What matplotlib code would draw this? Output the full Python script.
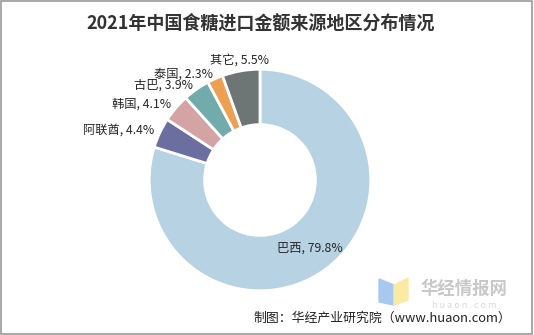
import numpy as np
import matplotlib.pyplot as plt
from matplotlib.patches import Rectangle, Polygon

plt.rcParams['font.family'] = ['Noto Sans CJK SC', 'DejaVu Sans']

# 数据
regions = ['巴西', '阿联酋', '韩国', '古巴', '泰国', '其它']
shares = [79.8, 4.4, 4.1, 3.9, 2.3, 5.5]
colors = ['#b7d2e3', '#6a6f9f', '#d4a4a5', '#72abab', '#eea052', '#6e7675']

W, H = 534, 335
fig = plt.figure(figsize=(W / 100, H / 100), dpi=100)

# 圆环位置 (像素)
cx, cy, R = 260, 180, 113
ax = fig.add_axes([(cx - R) / W, (H - cy - R) / H, 2 * R / W, 2 * R / H])
wedges, _ = ax.pie(shares, colors=colors, startangle=90, counterclock=False,
                   radius=1.0, wedgeprops=dict(width=0.5, edgecolor='white', linewidth=2))
ax.set_xlim(-1.02, 1.02)
ax.set_ylim(-1.02, 1.02)
ax.set_aspect('equal')
ax.axis('off')

# 标签
for i, w in enumerate(wedges):
    ang = np.deg2rad((w.theta1 + w.theta2) / 2)
    txt = f'{regions[i]}, {shares[i]}%'
    if i == 0:
        r, ha = 0.76, 'center'
    elif regions[i] == '其它':
        r, ha = 1.1, 'center'
    else:
        r, ha = 1.05, 'right'
    ax.text(r * np.cos(ang), r * np.sin(ang), txt, ha=ha, va='center',
            fontsize=8.8, color='#262626')

# 标题
fig.text(261 / W, 1 - 23 / H, '2021年中国食糖进口金额来源地区分布情况',
         ha='center', va='center', fontsize=13, fontweight='bold', color='#333333')

# 水印 logo
fig.patches.append(Polygon([(379 / W, 1 - 279 / H), (394 / W, 1 - 285 / H),
                            (394 / W, 1 - 305 / H), (379 / W, 1 - 302 / H)],
                           closed=True, transform=fig.transFigure, color='#a8c8f0', zorder=0))
fig.patches.append(Polygon([(394 / W, 1 - 285 / H), (408 / W, 1 - 278 / H),
                            (408 / W, 1 - 300 / H), (394 / W, 1 - 305 / H)],
                           closed=True, transform=fig.transFigure, color='#fbe9a6', zorder=0))
fig.text(464 / W, 1 - 289 / H, '华经情报网', ha='center', va='center',
         fontsize=12.5, fontweight='bold', color='#c8c8c8')
fig.text(464 / W, 1 - 306 / H, 'h u a o n . c o m', ha='center', va='center',
         fontsize=6.5, color='#d8d8d8')

# 来源
fig.text(382 / W, 1 - 318 / H, '制图：华经产业研究院（www.huaon.com）',
         ha='center', va='center', fontsize=9.3, color='#222222')

# 边框
fig.patches.append(Rectangle((0.002, 0.003), 0.995, 0.993, transform=fig.transFigure,
                             fill=False, edgecolor='#9a9a9a', linewidth=1.2))

fig.savefig('out.png', dpi=100)
